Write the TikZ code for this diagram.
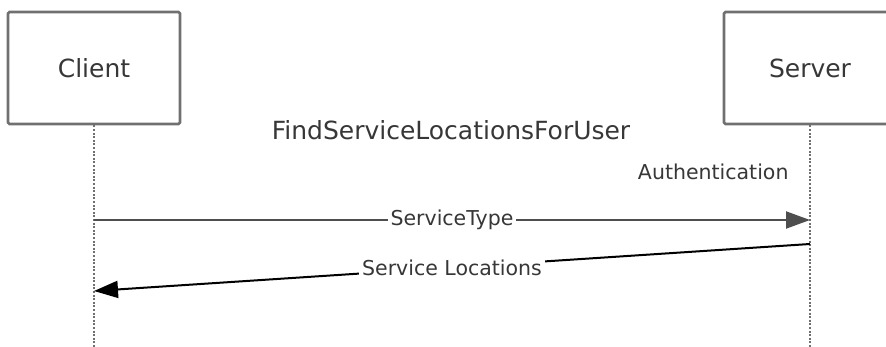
\documentclass[tikz,border=0pt]{standalone}
\usepackage{fontspec}
\setmainfont{DejaVu Sans}
\usetikzlibrary{arrows.meta}
\definecolor{seqgray}{RGB}{112,112,112}
\definecolor{seqtext}{RGB}{55,55,55}

\begin{document}
\begin{tikzpicture}[x=1pt, y=-1pt,
  actor/.style={draw=seqgray, line width=2.8pt, rounded corners=1.5pt, minimum width=172pt, minimum height=112pt, text=seqtext, font=\fontsize{25}{28}\selectfont},
  lifeline/.style={seqgray, line width=2.2pt, dash pattern=on 2pt off 1.6pt},
  msg/.style={-{Triangle[length=24pt, width=17pt]}, line width=2pt},
  msglabel/.style={fill=white, inner sep=3pt, text=seqtext, font=\fontsize{20.5}{24}\selectfont}]
\useasboundingbox (0,0) rectangle (886,347);

% Participants
\node[actor] (client) at (94, 68) {Client};
\node[actor] (server) at (810, 68) {Server};

% Lifelines
\coordinate (clientend) at (94, 347);
\coordinate (serverend) at (810, 347);
\draw[lifeline] (client.south) -- (clientend);
\draw[lifeline] (server.south) -- (serverend);

% Labels
\node[text=seqtext, font=\fontsize{25}{28}\selectfont] (title) at (451, 130) {FindServiceLocationsForUser};
\node[text=seqtext, font=\fontsize{20.5}{24}\selectfont, anchor=east] (auth) at (792, 172) {Authentication};

% Messages
\coordinate (req0) at (94, 220);
\coordinate (req1) at (810, 220);
\coordinate (resp0) at (810, 244);
\coordinate (resp1) at (94, 291);
\draw[msg, seqgray!70!black] (req0) -- node[msglabel] {ServiceType} (req1);
\draw[msg, black] (resp0) -- node[msglabel] {Service Locations} (resp1);
\end{tikzpicture}
\end{document}
